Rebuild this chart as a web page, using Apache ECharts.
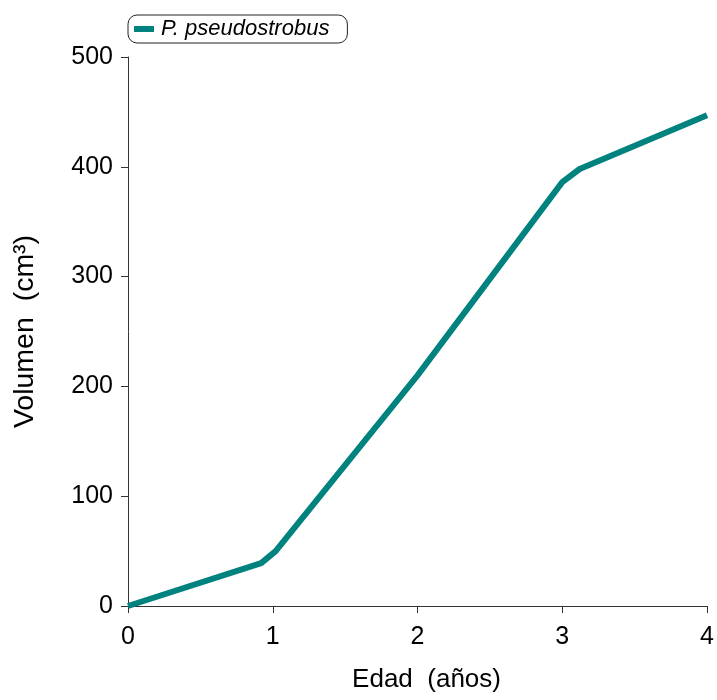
<!DOCTYPE html>
<html><head><meta charset="utf-8">
<script src="https://cdn.jsdelivr.net/npm/echarts@6/dist/echarts.min.js"></script>
<style>html,body{margin:0;padding:0;background:#fff}#c{width:717px;height:700px}</style>
</head><body><div id="c"></div>
<script>
const seriesName = 'P. pseudostrobus';
const edad = [0, 0.92, 1.02, 2, 3, 3.12, 4];
const volumen = [0, 39, 50, 210, 386, 398, 447];
const xTicks = [0, 1, 2, 3, 4];
const yTicks = [0, 100, 200, 300, 400, 500];

const chart = echarts.init(document.getElementById('c'));
const font = '"Liberation Sans", Arial, sans-serif';
chart.setOption({
  animation: false,
  backgroundColor: '#fff',
  legend: {
    left: 128, top: 15,
    padding: [3, 18, 3, 6],
    borderColor: '#222', borderWidth: 1, borderRadius: 9,
    icon: 'rect', itemWidth: 20, itemHeight: 6, itemGap: 6,
    textStyle: { fontFamily: font, fontStyle: 'italic', fontSize: 22, color: '#000', padding: [0, 0, 0, 2] },
    data: [seriesName]
  },
  grid: { left: 128, right: 9, top: 57, bottom: 94, containLabel: false },
  xAxis: {
    type: 'value', min: xTicks[0], max: xTicks[xTicks.length-1], interval: 1,
    name: 'Edad  (años)', nameLocation: 'middle', nameGap: 61,
    nameTextStyle: { fontFamily: font, fontSize: 26, color: '#000', padding: [0, 0, 0, 18] },
    axisLine: { lineStyle: { color: '#333', width: 1 } },
    axisTick: { show: true, length: 7, lineStyle: { color: '#333' } },
    axisLabel: { fontFamily: font, fontSize: 25, color: '#000', margin: 19 },
    splitLine: { show: false }
  },
  yAxis: {
    type: 'value', min: yTicks[0], max: yTicks[yTicks.length-1], interval: 100,
    name: 'Volumen  (cm³)', nameLocation: 'middle', nameGap: 88, nameRotate: 90,
    nameTextStyle: { fontFamily: font, fontSize: 28.5, color: '#000' },
    axisLine: { show: true, lineStyle: { color: '#333', width: 1 } },
    axisTick: { show: true, length: 7, lineStyle: { color: '#333' } },
    axisLabel: { fontFamily: font, fontSize: 25, color: '#000', margin: 15 },
    splitLine: { show: false }
  },
  series: [{
    name: seriesName, type: 'line',
    data: edad.map((x, i) => [x, volumen[i]]),
    showSymbol: false, symbol: 'none',
    lineStyle: { color: '#00827f', width: 6 },
    itemStyle: { color: '#00827f' }
  }]
});
</script></body></html>
